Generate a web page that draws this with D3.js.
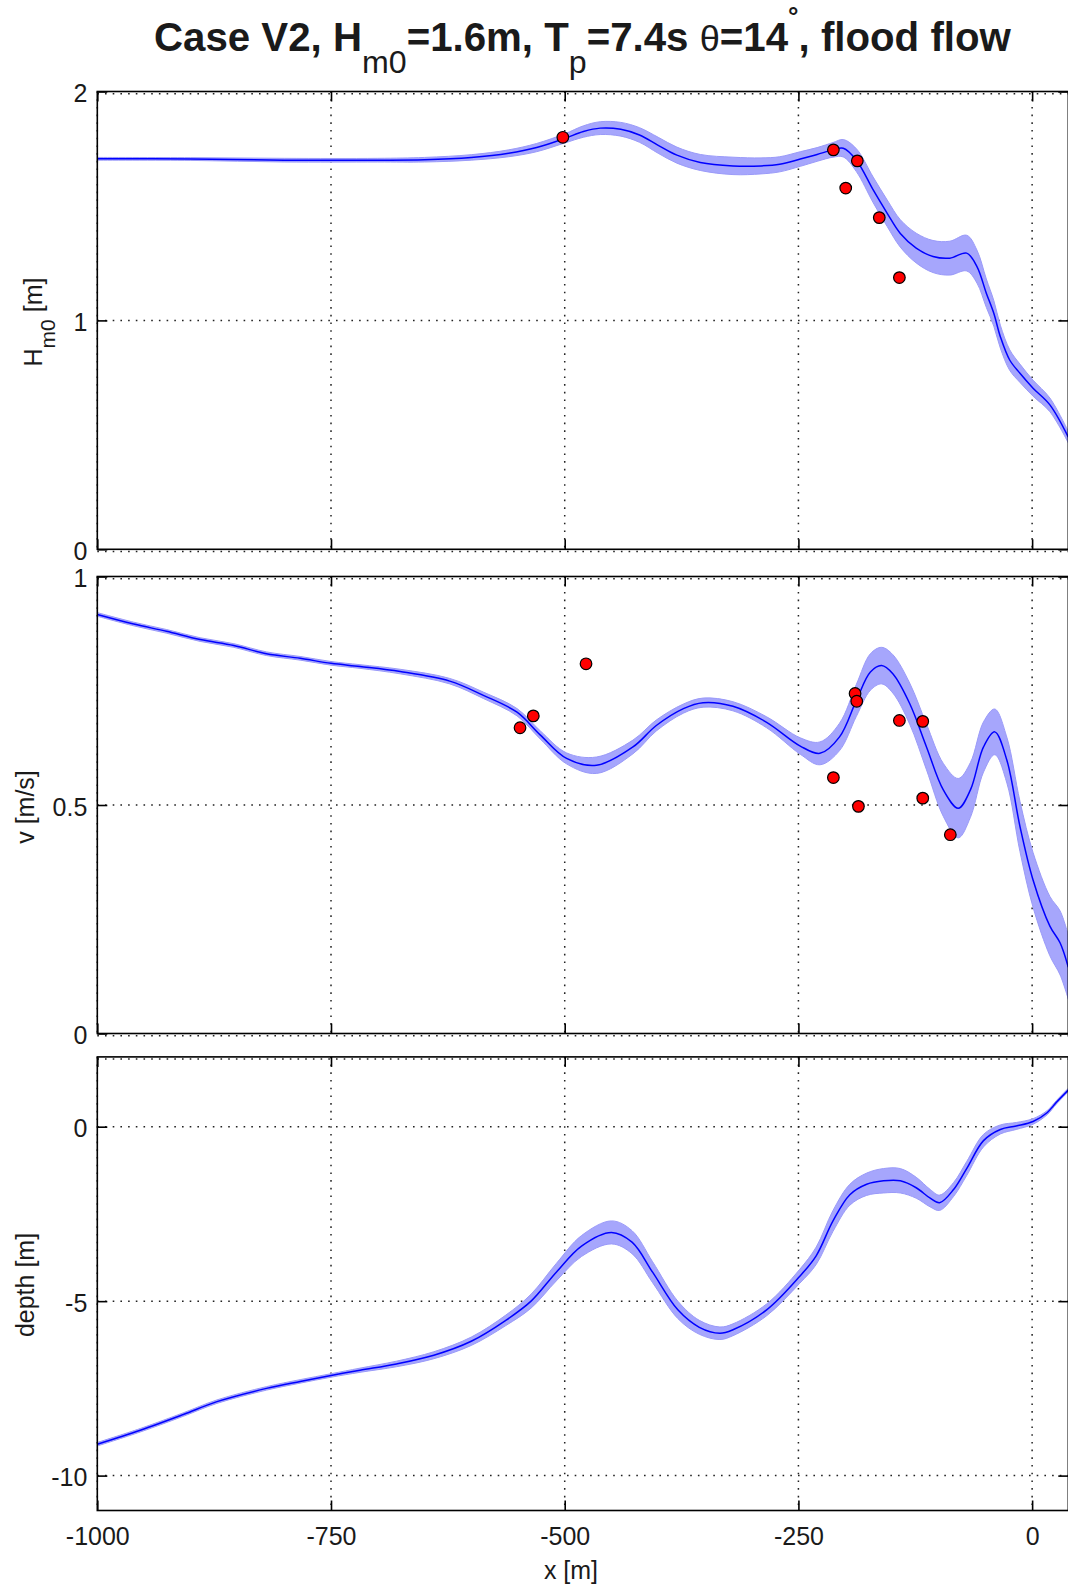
<!DOCTYPE html>
<html>
<head>
<meta charset="utf-8">
<script src="https://cdn.jsdelivr.net/npm/d3@7"></script>
<style>
  html, body { margin: 0; padding: 0; background: #fff; }
  svg { display: block; }
  text { font-family: "Liberation Sans", Arial, Helvetica, sans-serif; fill: #1a1a1a; }
</style>
</head>
<body>
<script>
// ---------------- DATA ----------------
const xDomain = [-1000, 38.7];
const xTicks = [-1000, -750, -500, -250, 0];

// Panel 1: significant wave height Hm0 [m]
const hmX    = [-1000, -900, -800, -700, -650, -600, -560, -530, -500, -480, -462, -440, -420, -400, -380, -355, -320, -290, -270, -248, -230, -213, -202, -188, -170, -155, -141, -124, -106, -88, -70, -59, -49, -41, -34, -24, -13, 1, 19, 38.7];
const hmVal  = [1.706, 1.705, 1.700, 1.700, 1.702, 1.712, 1.730, 1.755, 1.795, 1.825, 1.840, 1.835, 1.810, 1.765, 1.722, 1.690, 1.675, 1.675, 1.682, 1.705, 1.725, 1.745, 1.752, 1.700, 1.570, 1.468, 1.380, 1.316, 1.279, 1.272, 1.294, 1.235, 1.119, 1.031, 0.929, 0.827, 0.769, 0.704, 0.631, 0.49];
const hmHalf = [0.006, 0.006, 0.008, 0.008, 0.010, 0.012, 0.015, 0.018, 0.020, 0.025, 0.028, 0.030, 0.032, 0.035, 0.035, 0.035, 0.038, 0.035, 0.033, 0.032, 0.030, 0.032, 0.038, 0.050, 0.056, 0.058, 0.060, 0.065, 0.070, 0.074, 0.078, 0.072, 0.062, 0.056, 0.050, 0.045, 0.040, 0.035, 0.030, 0.025];
const hmObsX = [-502, -212.6, -199.4, -187, -163.5, -142];
const hmObsY = [1.800, 1.745, 1.578, 1.697, 1.449, 1.187];
const hmTicks = [0, 1, 2];

// Panel 2: velocity v [m/s]
const vX    = [-1000, -961, -926, -890, -854, -819, -783, -750, -719, -676, -623, -587, -551, -526, -498, -466, -427, -402, -373, -352, -320, -284, -248, -227, -206, -188, -173, -161, -149, -131, -113, -95, -79, -66, -52, -40, -27, -13, 1, 19, 30, 38.7];
const vVal  = [0.917, 0.896, 0.880, 0.862, 0.849, 0.831, 0.821, 0.810, 0.803, 0.792, 0.771, 0.740, 0.703, 0.653, 0.602, 0.587, 0.627, 0.674, 0.711, 0.724, 0.716, 0.681, 0.629, 0.613, 0.649, 0.729, 0.791, 0.805, 0.787, 0.722, 0.627, 0.533, 0.493, 0.533, 0.627, 0.660, 0.598, 0.453, 0.336, 0.235, 0.198, 0.145];
const vHalf = [0.004, 0.004, 0.004, 0.004, 0.004, 0.004, 0.004, 0.004, 0.004, 0.005, 0.006, 0.007, 0.008, 0.009, 0.012, 0.018, 0.015, 0.012, 0.010, 0.010, 0.010, 0.012, 0.018, 0.025, 0.030, 0.035, 0.040, 0.040, 0.042, 0.045, 0.050, 0.058, 0.065, 0.060, 0.055, 0.050, 0.050, 0.055, 0.060, 0.065, 0.070, 0.070];
const vObsX = [-547.8, -533.6, -477.2, -212.6, -189.4, -187.6, -185.8, -142, -117, -117, -87.5];
const vObsY = [0.669, 0.695, 0.809, 0.560, 0.744, 0.727, 0.497, 0.685, 0.683, 0.515, 0.435];
const vTicks = [0, 0.5, 1];

// Panel 3: depth [m]
const dX    = [-1000, -954, -908, -872, -819, -783, -750, -719, -680, -640, -600, -563, -536, -509, -482, -450, -428, -406, -379, -356, -334, -320, -284, -249, -231, -213, -195, -177, -159, -141, -124, -109, -99, -84, -70, -52, -34, -17, 1, 16, 26, 38.7];
const dVal  = [-9.10, -8.70, -8.25, -7.88, -7.50, -7.30, -7.13, -6.98, -6.80, -6.55, -6.15, -5.55, -5.00, -4.17, -3.42, -3.03, -3.31, -4.17, -5.25, -5.75, -5.92, -5.82, -5.25, -4.30, -3.70, -2.70, -1.95, -1.65, -1.55, -1.55, -1.75, -2.05, -2.18, -1.80, -1.20, -0.40, -0.08, 0.02, 0.15, 0.40, 0.70, 1.05];
const dHalf = [0.05, 0.05, 0.05, 0.05, 0.05, 0.05, 0.05, 0.06, 0.08, 0.10, 0.12, 0.15, 0.20, 0.25, 0.30, 0.33, 0.33, 0.30, 0.25, 0.20, 0.18, 0.17, 0.17, 0.20, 0.25, 0.30, 0.30, 0.32, 0.35, 0.35, 0.30, 0.25, 0.22, 0.20, 0.20, 0.18, 0.13, 0.10, 0.08, 0.06, 0.05, 0.05];
const dTicks = [-10, -5, 0];

// ---------------- LAYOUT ----------------
const W = 1068, H = 1586;
const left = 97.3, right = 1068.3;
const panels = [
  { top: 91.5,   bottom: 549.3,  domain: [0, 2],   ticks: hmTicks, xs: hmX, vals: hmVal, half: hmHalf, obsX: hmObsX, obsY: hmObsY, topDots: true, botDots: true },
  { top: 576.5,  bottom: 1033.5, domain: [0, 1],   ticks: vTicks,  xs: vX,  vals: vVal,  half: vHalf,  obsX: vObsX,  obsY: vObsY, topDots: true, botDots: true },
  { top: 1056.9, bottom: 1510.5, domain: [-11, 2], ticks: dTicks,  xs: dX,  vals: dVal,  half: dHalf,  obsX: [], obsY: [], topDots: true, botDots: false }
];

const svg = d3.select("body").append("svg").attr("width", W).attr("height", H);
const x = d3.scaleLinear().domain(xDomain).range([left, right]);

const gridStyle = sel => sel.attr("stroke", "#222").attr("stroke-width", 1.5).attr("stroke-dasharray", "1.6,6.1").attr("fill", "none");
const smooth = d3.curveCatmullRom.alpha(0.5);

panels.forEach((p, i) => {
  const y = d3.scaleLinear().domain(p.domain).range([p.bottom, p.top]);
  const g = svg.append("g");
  const clipId = "clip" + i;
  svg.append("clipPath").attr("id", clipId).append("rect")
    .attr("x", left).attr("y", p.top).attr("width", right - left).attr("height", p.bottom - p.top);

  // grid
  xTicks.forEach(t => {
    g.append("line").attr("x1", x(t)).attr("x2", x(t)).attr("y1", p.top).attr("y2", p.bottom).call(gridStyle);
  });
  p.ticks.forEach(t => {
    const yy = y(t);
    if (Math.abs(yy - p.top) < 1 || Math.abs(yy - p.bottom) < 1) return;
    g.append("line").attr("x1", left).attr("x2", right).attr("y1", yy).attr("y2", yy).call(gridStyle);
  });
  if (p.topDots) g.append("line").attr("x1", left).attr("x2", right).attr("y1", p.top + 2.2).attr("y2", p.top + 2.2).call(gridStyle);
  if (p.botDots) g.append("line").attr("x1", left).attr("x2", right).attr("y1", p.bottom + 2.2).attr("y2", p.bottom + 2.2).call(gridStyle);

  // data
  const pts = p.xs.map((xv, k) => ({ x: xv, v: p.vals[k], h: p.half[k] }));
  const plot = g.append("g").attr("clip-path", `url(#${clipId})`);
  const area = d3.area().x(d => x(d.x)).y0(d => y(d.v - d.h)).y1(d => y(d.v + d.h)).curve(smooth);
  plot.append("path").datum(pts).attr("d", area)
    .attr("fill", "#a6a6fc").attr("stroke", "#9a9af8").attr("stroke-width", 1);
  const line = d3.line().x(d => x(d.x)).y(d => y(d.v)).curve(smooth);
  plot.append("path").datum(pts).attr("d", line)
    .attr("fill", "none").attr("stroke", "#0000ff").attr("stroke-width", 1.5);

  const obs = p.obsX.map((xv, k) => ({ x: xv, v: p.obsY[k] }));
  plot.selectAll("circle.obs").data(obs).enter().append("circle")
    .attr("cx", d => x(d.x)).attr("cy", d => y(d.v)).attr("r", 5.8)
    .attr("fill", "#ff0000").attr("stroke", "#000").attr("stroke-width", 1.2);

  // axes (inward ticks)
  const fmt = d => String(d);
  const axB = g.append("g").attr("transform", `translate(0,${p.bottom})`)
    .call(d3.axisBottom(x).tickValues(xTicks).tickSize(-10).tickPadding(17).tickFormat(i === 2 ? fmt : () => ""));
  const axT = g.append("g").attr("transform", `translate(0,${p.top})`)
    .call(d3.axisTop(x).tickValues(xTicks).tickSize(-10).tickFormat(() => ""));
  const axL = g.append("g").attr("transform", `translate(${left},0)`)
    .call(d3.axisLeft(y).tickValues(p.ticks).tickSize(-10).tickPadding(10).tickFormat(fmt));
  const axR = g.append("g").attr("transform", `translate(${right},0)`)
    .call(d3.axisRight(y).tickValues(p.ticks).tickSize(-10).tickFormat(() => ""));
  [axB, axT, axL, axR].forEach(a => {
    a.select(".domain").remove();
    a.selectAll(".tick line").attr("stroke", "#000").attr("stroke-width", 1.6);
    a.selectAll("text").attr("font-size", 25).attr("font-family", "Liberation Sans, Arial, sans-serif").attr("fill", "#1a1a1a");
  });
  axL.selectAll("text").attr("dy", "0.4em");

  // box
  g.append("rect").attr("x", left).attr("y", p.top).attr("width", right - left).attr("height", p.bottom - p.top)
    .attr("fill", "none").attr("stroke", "#000").attr("stroke-width", 1.6);
});

// y labels
const lab1 = svg.append("text").attr("transform", "translate(42,322) rotate(-90)").attr("text-anchor", "middle").attr("font-size", 25);
lab1.append("tspan").text("H");
lab1.append("tspan").attr("font-size", 21).attr("dy", 13).text("m0");
lab1.append("tspan").attr("dy", -13).text(" [m]");

svg.append("text").attr("transform", "translate(33.5,807) rotate(-90)").attr("text-anchor", "middle").attr("font-size", 25).text("v [m/s]");
svg.append("text").attr("transform", "translate(33.5,1285) rotate(-90)").attr("text-anchor", "middle").attr("font-size", 25).text("depth [m]");

// x label
svg.append("text").attr("x", 571).attr("y", 1579).attr("text-anchor", "middle").attr("font-size", 25).text("x [m]");

// title
const tx0 = 154, tW = 858, tBase = 51;
const tg = svg.append("g").attr("transform", `translate(${tx0},${tBase})`);
const title = tg.append("text").attr("font-size", 40).attr("font-weight", "bold").attr("fill", "#000");
title.append("tspan").text("Case V2, H");
title.append("tspan").attr("font-size", 32).attr("font-weight", "normal").attr("dy", 22).text("m0");
title.append("tspan").attr("dy", -22).text("=1.6m, T");
title.append("tspan").attr("font-size", 32).attr("font-weight", "normal").attr("dy", 22).text("p");
title.append("tspan").attr("dy", -22).text("=7.4s ");
title.append("tspan").attr("font-weight", "normal").attr("font-size", 36).text("\u03B8");
title.append("tspan").text("=14");
title.append("tspan").attr("font-size", 26).attr("dy", -26).text("\u00B0");
title.append("tspan").attr("dy", 26).text(", flood flow");
const tw = title.node().getBBox().width;
const sx = tW / tw;
tg.attr("transform", `translate(${tx0},${tBase}) scale(${sx},1)`);
</script>
</body>
</html>
